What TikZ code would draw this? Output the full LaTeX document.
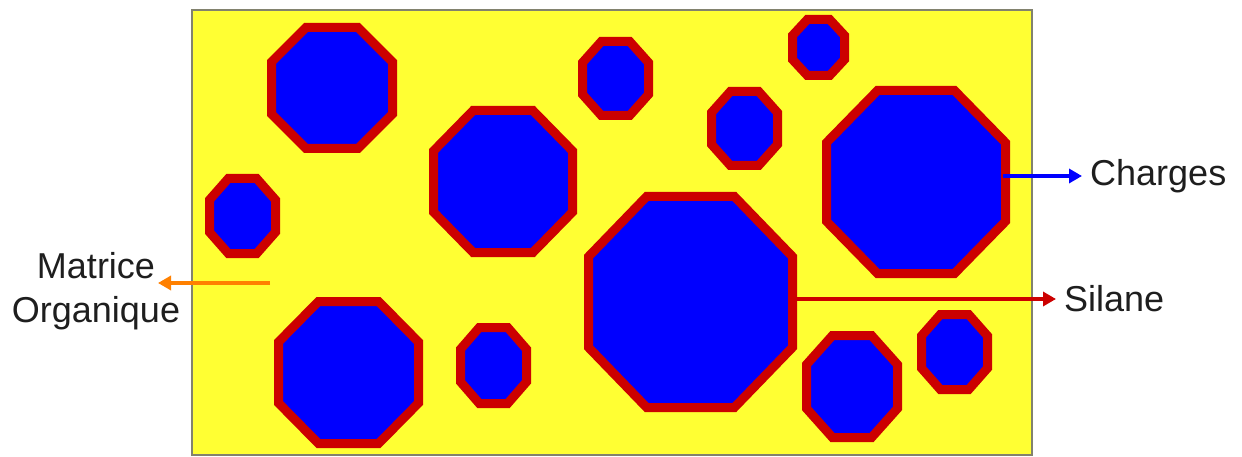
\documentclass[tikz,border=0pt]{standalone}
\usepackage{fontspec}
\setmainfont{Liberation Sans}
\usetikzlibrary{arrows.meta}
\definecolor{matyellow}{RGB}{255,255,51}
\definecolor{fillblue}{RGB}{0,0,255}
\definecolor{silred}{RGB}{204,0,0}
\definecolor{matorange}{RGB}{255,128,0}
\definecolor{framegray}{RGB}{130,130,110}
\definecolor{txtgray}{RGB}{30,30,30}
\newcommand\myoct[4]{%
  \pgfmathsetmacro\ha{#3-4.5}\pgfmathsetmacro\hb{#4-4.5}%
  \pgfmathsetmacro\ka{0.43*\ha}\pgfmathsetmacro\kb{0.43*\hb}%
  \draw[octo] ({#1+\ha},{#2-\kb}) -- ({#1+\ha},{#2+\kb}) -- ({#1+\ka},{#2+\hb}) -- ({#1-\ka},{#2+\hb})
    -- ({#1-\ha},{#2+\kb}) -- ({#1-\ha},{#2-\kb}) -- ({#1-\ka},{#2-\hb}) -- ({#1+\ka},{#2-\hb}) -- cycle;}
\begin{document}
\begin{tikzpicture}[x=1pt,y=-1pt,
  octo/.style={draw=silred,fill=fillblue,line width=9pt,line join=miter},
  lbl/.style={text=txtgray,font=\fontsize{36}{44}\selectfont,inner sep=8pt,align=center},
  conn/.style={line width=3.5pt,-{Triangle[length=13pt,width=14pt]}}]
\useasboundingbox (0,0) rectangle (1242,457);
\fill[white] (0,0) rectangle (1242,457);
\draw[fill=matyellow,draw=framegray,line width=2pt] (192,10) rectangle (1032,455);
\myoct{332}{88}{65}{65}
\myoct{690.5}{302}{106.5}{110}
\myoct{916}{182}{94}{96}
\myoct{503}{181.5}{74}{75.5}
\myoct{242.5}{216}{37.5}{42}
\myoct{348.5}{372.5}{74.5}{75.5}
\myoct{493.5}{365.5}{37.5}{42.5}
\myoct{615.5}{78.5}{37.5}{41.5}
\myoct{818.5}{47.5}{30.5}{32.5}
\myoct{744.5}{128.5}{37.5}{41.5}
\myoct{852}{386.5}{50}{55.5}
\myoct{954.5}{352}{37.5}{42}
\coordinate (cstart) at (1003,176);
\coordinate (sstart) at (797,299);
\coordinate (mstart) at (270,283);
\coordinate (mend) at (158,283);
\node[lbl,anchor=west] (charges) at (1082,176) {Charges};
\node[lbl,anchor=west] (silane) at (1056,299) {Silane};
\node[lbl] (matrice) at (96,291) {Matrice\\Organique};
\draw[conn,draw=fillblue,fill=fillblue] (cstart) -- (charges.west);
\draw[conn,draw=silred,fill=silred] (sstart) -- (silane.west);
\draw[conn,draw=matorange,fill=matorange] (mstart) -- (mend);
\end{tikzpicture}
\end{document}
